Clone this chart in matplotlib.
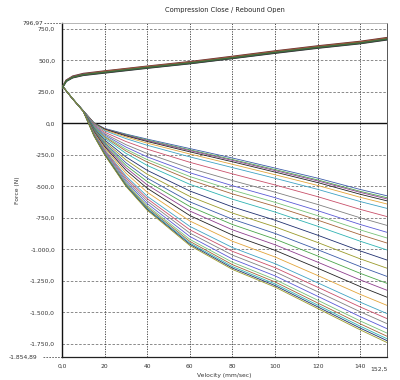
import matplotlib
matplotlib.use("Agg")
import matplotlib.pyplot as plt

# ── Data ──────────────────────────────────────────────────────────────────────
# Rebound side: 28 click settings, force (N) at these velocities (mm/sec)
rebound_vel = [0, 5, 10, 15, 20, 30, 40, 60, 80, 100, 120, 140, 152.5]
rebound_force = [
    [300, 195, 100, 5, -40, -85, -125, -200, -275, -355, -435, -525, -575],
    [298, 196, 100, 4, -43, -90, -132, -210, -287, -367, -449, -540, -590],
    [301, 194, 99, 3, -44, -94, -137, -216, -294, -375, -457, -548, -600],
    [299, 195, 100, 1, -47, -99, -144, -226, -305, -387, -470, -563, -615],
    [300, 196, 99, -1, -52, -108, -157, -243, -325, -408, -493, -587, -640],
    [302, 195, 99, -4, -58, -121, -174, -266, -351, -436, -524, -621, -675],
    [300, 194, 99, -10, -70, -144, -205, -309, -401, -489, -582, -683, -740],
    [299, 195, 98, -16, -82, -169, -239, -356, -454, -546, -644, -750, -810],
    [301, 196, 98, -21, -92, -188, -266, -392, -495, -590, -693, -803, -865],
    [300, 195, 98, -25, -101, -205, -288, -422, -530, -627, -733, -846, -910],
    [299, 194, 98, -29, -108, -219, -307, -448, -560, -659, -768, -884, -950],
    [300, 196, 98, -34, -118, -238, -334, -484, -602, -704, -817, -936, -1005],
    [301, 195, 98, -41, -132, -267, -373, -537, -663, -769, -888, -1013, -1085],
    [300, 195, 97, -47, -144, -290, -404, -580, -712, -822, -946, -1076, -1150],
    [299, 196, 97, -53, -155, -313, -435, -623, -761, -874, -1003, -1137, -1215],
    [300, 195, 97, -58, -165, -333, -462, -660, -803, -919, -1053, -1191, -1270],
    [301, 194, 97, -63, -175, -352, -489, -696, -845, -964, -1102, -1243, -1325],
    [300, 195, 97, -68, -185, -372, -515, -732, -887, -1008, -1150, -1296, -1380],
    [299, 196, 96, -73, -197, -395, -547, -775, -936, -1061, -1208, -1358, -1445],
    [300, 195, 96, -79, -209, -418, -579, -818, -986, -1114, -1266, -1420, -1510],
    [301, 195, 96, -83, -216, -432, -598, -845, -1016, -1146, -1301, -1458, -1550],
    [300, 194, 96, -86, -223, -447, -617, -871, -1046, -1178, -1337, -1496, -1590],
    [299, 195, 95, -90, -230, -461, -637, -898, -1077, -1211, -1373, -1535, -1630],
    [300, 196, 95, -93, -237, -473, -654, -921, -1103, -1240, -1404, -1569, -1665],
    [300, 195, 95, -96, -241, -482, -666, -937, -1122, -1259, -1426, -1592, -1690],
    [301, 195, 95, -97, -245, -489, -675, -950, -1137, -1275, -1443, -1611, -1710],
    [300, 194, 95, -99, -247, -495, -683, -960, -1149, -1288, -1457, -1626, -1725],
    [300, 195, 95, -100, -250, -500, -690, -970, -1160, -1300, -1470, -1640, -1740],
]

# Compression side (closed): a few overlapping passes
comp_vel = [0, 2, 5, 10, 20, 40, 60, 80, 100, 120, 140, 152.5]
comp_force = [
    [280, 342, 375, 396, 416, 454, 490, 532, 575, 615, 651, 681],
    [278, 333, 364, 384, 403, 441, 476, 517, 560, 600, 636, 666],
    [282, 343, 370, 390, 409, 447, 483, 524, 567, 607, 642, 673],
    [279, 336, 362, 381, 400, 438, 474, 515, 557, 597, 633, 663],
    [281, 341, 369, 389, 412, 450, 485, 527, 570, 610, 646, 676],
    [280, 338, 367, 387, 406, 444, 480, 521, 564, 604, 639, 670],
]

y_ticks = [-1750, -1500, -1250, -1000, -750, -500, -250, 0, 250, 500, 750]
y_tick_labels = ["-1.750,0", "-1.500,0", "-1.250,0", "-1.000,0", "-750,0", "-500,0",
                 "-250,0", "0,0", "250,0", "500,0", "750,0"]
x_ticks = [0, 20, 40, 60, 80, 100, 120, 140]
x_tick_labels = ["0,0", "20", "40", "60", "80", "100", "120", "140"]
y_min, y_max = -1854.89, 796.97
x_max = 152.5

colours = ["#3b5ba8", "#4aa64a", "#8e3f8e", "#222222", "#e3a53a", "#3fa3c4",
           "#c9506a", "#808080", "#5a5ad6", "#77c277", "#a5653a", "#2fb3b3",
           "#1f2f6f", "#9a9a2a"]

# ── Chart ─────────────────────────────────────────────────────────────────────
fig = plt.figure(figsize=(4.0, 3.8), dpi=100)
ax = fig.add_axes([0.155, 0.0605, 0.8125, 0.879])

for i, f in enumerate(rebound_force):
    ax.plot(rebound_vel, f, color=colours[i % len(colours)], lw=0.6, zorder=3)
comp_cols = ["#6b3030", "#2f5f6f", "#7a4a9a", "#3a3a3a", "#a05a3a", "#3f6f3f"]
for i, f in enumerate(comp_force):
    ax.plot(comp_vel, f, color=comp_cols[i], lw=1.0, zorder=3)

ax.set_xlim(0, x_max)
ax.set_ylim(y_min, y_max)
ax.set_yticks(y_ticks)
ax.set_yticklabels(y_tick_labels)
ax.set_xticks(x_ticks)
ax.set_xticklabels(x_tick_labels)
ax.tick_params(labelsize=4.3, length=0, pad=5, colors="#333333")

for y in y_ticks:
    if y != 0:
        ax.axhline(y, color="#777777", lw=0.6, ls=(0, (3, 2)), zorder=1)
for x in x_ticks[1:]:
    ax.axvline(x, color="#333333", lw=0.6, ls=(0, (1.5, 1.5)), zorder=1)
ax.axhline(0, color="#111111", lw=1.0, zorder=2)

ax.spines["left"].set_color("#111111")
ax.spines["left"].set_linewidth(1.0)
ax.spines["bottom"].set_color("#222222")
ax.spines["bottom"].set_linewidth(0.9)
ax.spines["right"].set_color("#555555")
ax.spines["right"].set_linewidth(0.7)
ax.spines["top"].set_color("#aaaaaa")
ax.spines["top"].set_linewidth(0.6)

# extreme value labels with dashed leaders to the axis
ax.text(-0.09, 1.0, "796,97", transform=ax.transAxes, fontsize=4.3,
        ha="center", va="center", color="#333333")
ax.plot([-0.055, 0.0], [1.0, 1.0], transform=ax.transAxes, clip_on=False,
        color="#555555", lw=0.6, ls=(0, (2, 1.5)))
ax.text(-0.12, 0.0, "-1.854,89", transform=ax.transAxes, fontsize=4.3,
        ha="center", va="center", color="#333333")
ax.plot([-0.06, 0.0], [0.0, 0.0], transform=ax.transAxes, clip_on=False,
        color="#555555", lw=0.6, ls=(0, (2, 1.5)))
ax.text(0.975, -0.03, "152,5", transform=ax.transAxes, fontsize=4.3,
        ha="center", va="top", color="#333333")

ax.set_xlabel("Velocity (mm/sec)", fontsize=4.3, labelpad=3, color="#333333")
ax.set_ylabel("Force (N)", fontsize=4.3, labelpad=7, color="#333333")
ax.set_title("Compression Close / Rebound Open", fontsize=4.8, pad=8, color="#222222")

fig.savefig("out.png", dpi=100)
